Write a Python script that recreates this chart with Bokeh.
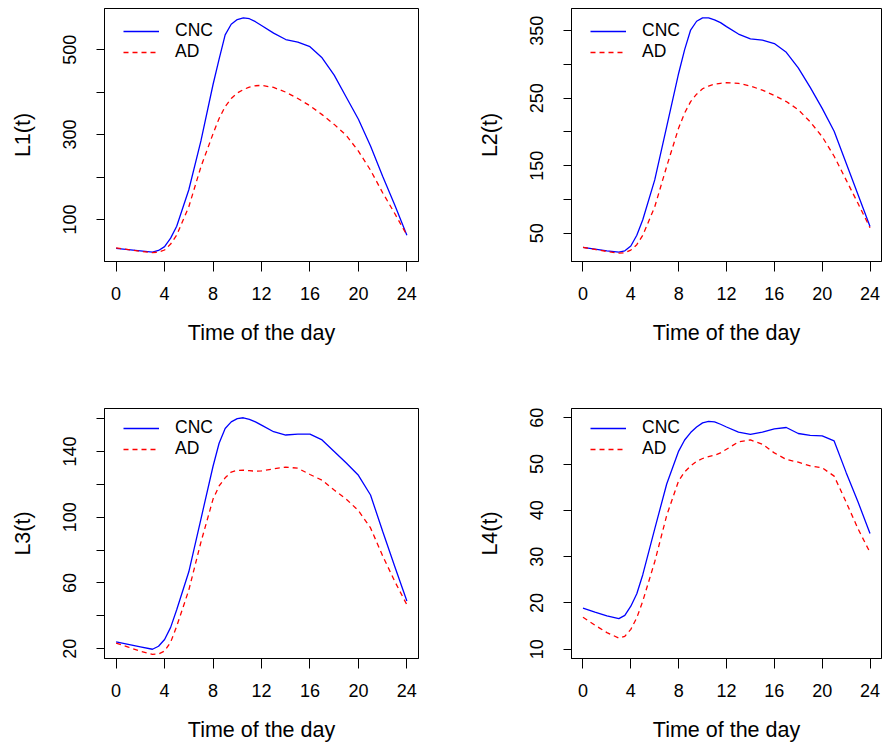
from bokeh.plotting import figure
from bokeh.layouts import column, row
from bokeh.models import FixedTicker, Legend, LegendItem, Range1d
from bokeh.embed import file_html
from bokeh.resources import INLINE

hours = [0, 1, 2, 3, 3.5, 4, 4.5, 5, 6, 7, 8, 8.5, 9, 9.5, 10, 10.5, 11, 11.5, 12,
         13, 14, 15, 16, 17, 18, 19, 20, 21, 22, 23, 24]
x_ticks = [0, 4, 8, 12, 16, 20, 24]

l1_cnc = [32, 29, 26, 23, 27, 36, 56, 84, 170, 285, 418, 478, 535, 560, 571, 575, 573, 566, 557,
          539, 524, 518, 507, 481, 440, 388, 336, 273, 202, 134, 63]
l1_ad = [33, 29, 25, 22, 23, 28, 42, 63, 130, 224, 302, 338, 366, 385, 398, 406, 412, 415, 416,
         411, 400, 385, 368, 347, 324, 298, 261, 216, 163, 114, 63]

l2_cnc = [29, 26.5, 24, 22, 24, 31, 47, 70, 129, 208, 287, 322, 351, 364, 369, 369, 366, 362, 356,
          345, 338, 336, 331, 318, 295, 266, 235, 201, 154, 107, 60]
l2_ad = [29, 26, 23, 20.5, 21, 25, 33, 47, 89, 149, 206, 228, 245, 256, 264, 268, 271, 272, 273,
         272, 268, 262, 254, 245, 233, 215, 193, 164, 129, 94, 58]

l3_cnc = [24.2, 22.7, 21.2, 19.7, 21.5, 25.6, 33, 43.7, 66.8, 98.9, 131, 145, 154, 158, 160, 160.5, 159.5, 158, 156,
          152, 150, 150.5, 150.5, 147, 140, 133, 125.5, 113.5, 91.5, 70, 49]
l3_ad = [23.4, 21, 18.5, 16.6, 16.8, 18.6, 24, 33.7, 55.7, 84.8, 111, 119, 124, 127.5, 128.5, 128.6, 128.3, 128, 128.2,
         129.4, 130.5, 129.8, 126, 122.5, 116.5, 111, 104, 93.5, 76.5, 61, 46.7]

l4_cnc = [18.9, 18, 17.2, 16.6, 17.3, 19.3, 22, 26.1, 36, 45.7, 52.8, 55.2, 56.8, 58, 58.9, 59.2, 59.1, 58.6, 58,
          56.9, 56.4, 56.9, 57.6, 57.9, 56.6, 56.2, 56.1, 55, 48.2, 41.8, 35]
l4_ad = [16.9, 15.2, 13.6, 12.4, 12.8, 14.3, 16.8, 20.4, 28.9, 38.9, 46.4, 48.3, 49.6, 50.6, 51.2, 51.6, 51.9, 52.4, 53.2,
         54.8, 55.2, 54.3, 52.4, 51, 50.4, 49.6, 49.2, 47.4, 41.8, 36, 30.9]

l1_yticks = [100, 200, 300, 400, 500]
l1_ylabels = ["100", "", "300", "", "500"]
l2_yticks = [50, 100, 150, 200, 250, 300, 350]
l2_ylabels = ["50", "", "150", "", "250", "", "350"]
l3_yticks = [20, 40, 60, 80, 100, 120, 140, 160]
l3_ylabels = ["20", "", "60", "", "100", "", "140", ""]
l4_yticks = [10, 20, 30, 40, 50, 60]
l4_ylabels = ["10", "20", "30", "40", "50", "60"]
l4_ylim = [10, 60]

FONT = "Liberation Sans"


def make(ylabel, cnc, ad, yticks, ylabels, width, height, bl, br, bt, bb, ylim=None):
    # R-style axis limits: from the first (plotted) series, or explicit ylim, padded by 4%
    lo, hi = (min(cnc), max(cnc)) if ylim is None else (ylim[0], ylim[1])
    pad = 0.04 * (hi - lo)
    xpad = 0.04 * (max(hours) - min(hours))
    p = figure(width=width, height=height, output_backend="svg", toolbar_location=None,
               x_range=Range1d(min(hours) - xpad, max(hours) + xpad),
               y_range=Range1d(lo - pad, hi + pad),
               min_border_left=bl, min_border_right=br, min_border_top=bt, min_border_bottom=bb)
    p.grid.visible = False
    p.outline_line_color = "black"
    p.outline_line_width = 1
    p.outline_line_alpha = 1
    r1 = p.line(hours, cnc, line_color="#0000ff", line_width=1.3)
    r2 = p.line(hours, ad, line_color="#ff0000", line_width=1.3, line_dash="5 4")

    for ax in (p.xaxis[0], p.yaxis[0]):
        ax.axis_line_color = "black"
        ax.major_tick_line_color = "black"
        ax.minor_tick_line_color = None
        ax.major_tick_in = 0
        ax.major_label_text_font = FONT
        ax.major_label_text_font_size = "18px"
        ax.major_label_text_color = "black"
        ax.axis_label_text_font = FONT
        ax.axis_label_text_font_size = "21.5px"
        ax.axis_label_text_font_style = "normal"
        ax.axis_label_text_color = "black"

    xa = p.xaxis[0]
    xa.ticker = FixedTicker(ticks=x_ticks)
    xa.major_tick_out = 10
    xa.major_label_standoff = 15
    xa.axis_label = "Time of the day"
    xa.axis_label_standoff = 18

    ya = p.yaxis[0]
    ya.ticker = FixedTicker(ticks=yticks)
    ya.major_label_overrides = {t: l for t, l in zip(yticks, ylabels)}
    ya.major_tick_out = 8
    ya.major_label_orientation = "vertical"
    ya.major_label_standoff = 20
    ya.axis_label = ylabel
    ya.axis_label_standoff = 26

    frame_h = height - bt - bb
    legend = Legend(items=[LegendItem(label="CNC", renderers=[r1]),
                           LegendItem(label="AD", renderers=[r2])],
                    location=(19, frame_h - 11 - 43), margin=0, padding=0, spacing=-1,
                    glyph_width=36, glyph_height=20, label_height=20, label_standoff=16,
                    label_text_font=FONT, label_text_font_size="17.5px", label_text_color="black",
                    border_line_alpha=0, background_fill_alpha=0)
    p.add_layout(legend)
    return p


p1 = make("L1(t)", l1_cnc, l1_ad, l1_yticks, l1_ylabels, 449, 360, 104, 31, 8, 99)
p2 = make("L2(t)", l2_cnc, l2_ad, l2_yticks, l2_ylabels, 433, 360, 122, 1, 8, 99)
p3 = make("L3(t)", l3_cnc, l3_ad, l3_yticks, l3_ylabels, 449, 384, 104, 31, 48, 83)
p4 = make("L4(t)", l4_cnc, l4_ad, l4_yticks, l4_ylabels, 433, 384, 122, 1, 48, 83, ylim=l4_ylim)

layout = column(row(p1, p2), row(p3, p4))
open("out.html", "w").write(file_html(layout, INLINE))
